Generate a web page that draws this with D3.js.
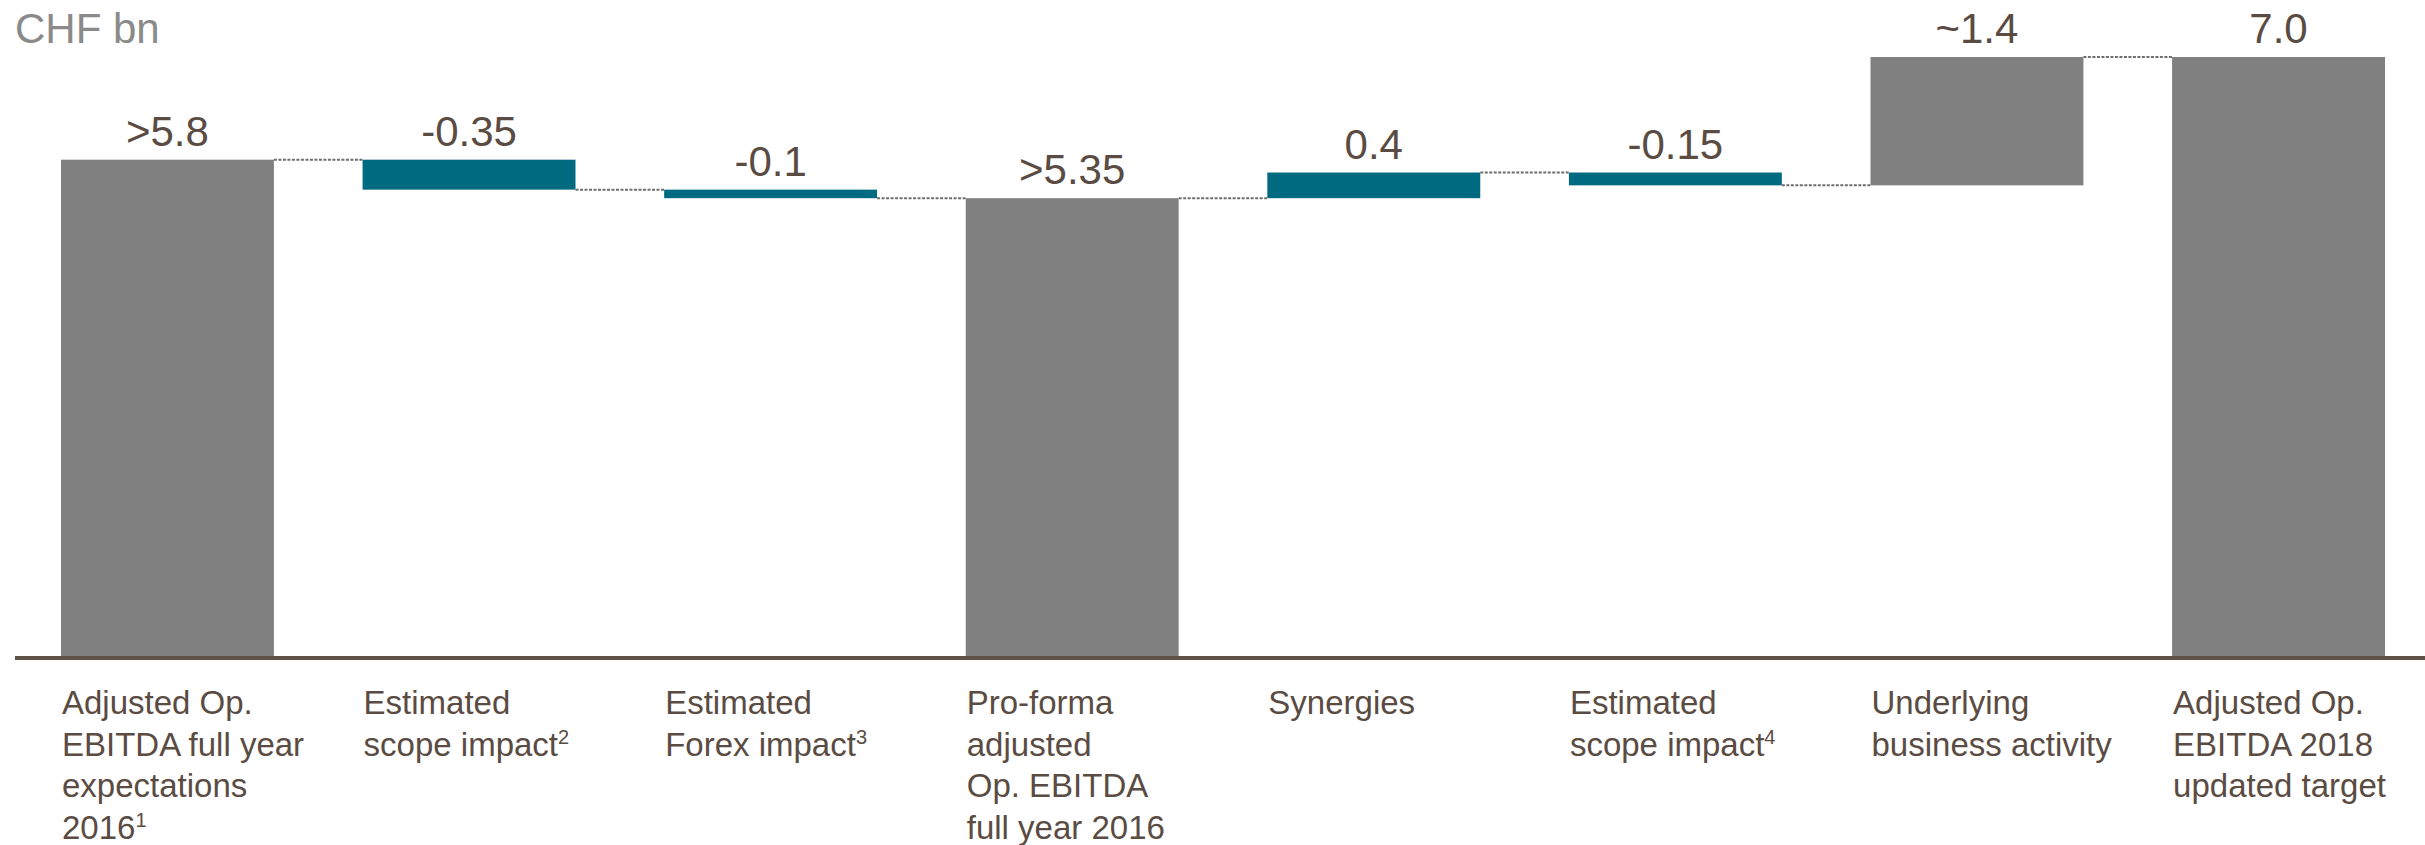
<!DOCTYPE html>
<html>
<head>
<meta charset="utf-8">
<script src="https://cdn.jsdelivr.net/npm/d3@7"></script>
<style>
  html, body { margin: 0; padding: 0; background: #fff; }
  svg { display: block; font-family: "Liberation Sans", Arial, sans-serif; }
</style>
</head>
<body>
<svg id="chart" width="2425" height="845"></svg>
<script>
// ---- data ----
const unitLabel = "CHF bn";
const categoryLines = [
  ["Adjusted Op.", "EBITDA full year", "expectations", "2016"],
  ["Estimated", "scope impact"],
  ["Estimated", "Forex impact"],
  ["Pro-forma", "adjusted", "Op. EBITDA", "full year 2016"],
  ["Synergies"],
  ["Estimated", "scope impact"],
  ["Underlying", "business activity"],
  ["Adjusted Op.", "EBITDA 2018", "updated target"]
];
const footnotes = ["1", "2", "3", "", "", "4", "", ""];
// bar values as drawn (totals are absolute, others are changes)
const values = [5.8, -0.35, -0.1, 5.35, 0.3, -0.15, 1.5, 7.0];
const isTotal = [true, false, false, true, false, false, false, true];
const barKind = ["total", "impact", "impact", "total", "impact", "impact", "growth", "total"];
const valueLabels = [">5.8", "-0.35", "-0.1", ">5.35", "0.4", "-0.15", "~1.4", "7.0"];

// ---- styles ----
const colors = { total: "#808080", growth: "#808080", impact: "#006a80" };
const textColor = "#5a4b43";

// ---- compute waterfall ----
let running = 0;
const bars = values.map((v, i) => {
  let y0, y1;
  if (isTotal[i]) { y0 = 0; y1 = v; running = v; }
  else { y0 = running; y1 = running + v; running = y1; }
  return { i, y0, y1, level: running, kind: barKind[i], label: valueLabels[i] };
});

const svg = d3.select("#chart");
const x = d3.scaleBand().domain(d3.range(values.length)).range([61, 2385]).paddingInner(0.294).paddingOuter(0);
const y = d3.scaleLinear().domain([0, 7]).range([656, 57]);

// unit label
svg.append("text").attr("x", 15).attr("y", 43)
  .attr("font-size", 42).attr("fill", "#8a8a8a").text(unitLabel);

// bars
svg.append("g").selectAll("rect").data(bars).join("rect")
  .attr("x", d => x(d.i))
  .attr("width", x.bandwidth())
  .attr("y", d => y(Math.max(d.y0, d.y1)))
  .attr("height", d => Math.abs(y(d.y0) - y(d.y1)))
  .attr("fill", d => colors[d.kind]);

// connectors
svg.append("g").selectAll("line").data(bars.slice(0, -1)).join("line")
  .attr("x1", d => x(d.i) + x.bandwidth())
  .attr("x2", d => x(d.i + 1))
  .attr("y1", d => y(d.level)).attr("y2", d => y(d.level))
  .attr("stroke", "#6e6e6e").attr("stroke-width", 2).attr("stroke-dasharray", "3,1.5");

// value labels
svg.append("g").selectAll("text").data(bars).join("text")
  .attr("x", d => x(d.i) + x.bandwidth() / 2)
  .attr("y", d => y(Math.max(d.y0, d.y1)) - 14)
  .attr("text-anchor", "middle").attr("font-size", 42).attr("fill", textColor)
  .text(d => d.label);

// axis baseline
svg.append("line").attr("x1", 15).attr("x2", 2425).attr("y1", y(0) + 2).attr("y2", y(0) + 2)
  .attr("stroke", "#5f5249").attr("stroke-width", 4);

// category labels
const cat = svg.append("g").selectAll("text").data(categoryLines).join("text")
  .attr("x", (d, i) => x(i) + 1)
  .attr("y", 714)
  .attr("font-size", 33).attr("fill", textColor);
cat.each(function (lines, i) {
  const t = d3.select(this);
  lines.forEach((ln, k) => {
    t.append("tspan").attr("x", x(i) + 1).attr("dy", k === 0 ? 0 : 41.5).text(ln);
  });
  if (footnotes[i]) {
    t.append("tspan").attr("font-size", 20).attr("dy", -12).text(footnotes[i]);
  }
});
</script>
</body>
</html>
